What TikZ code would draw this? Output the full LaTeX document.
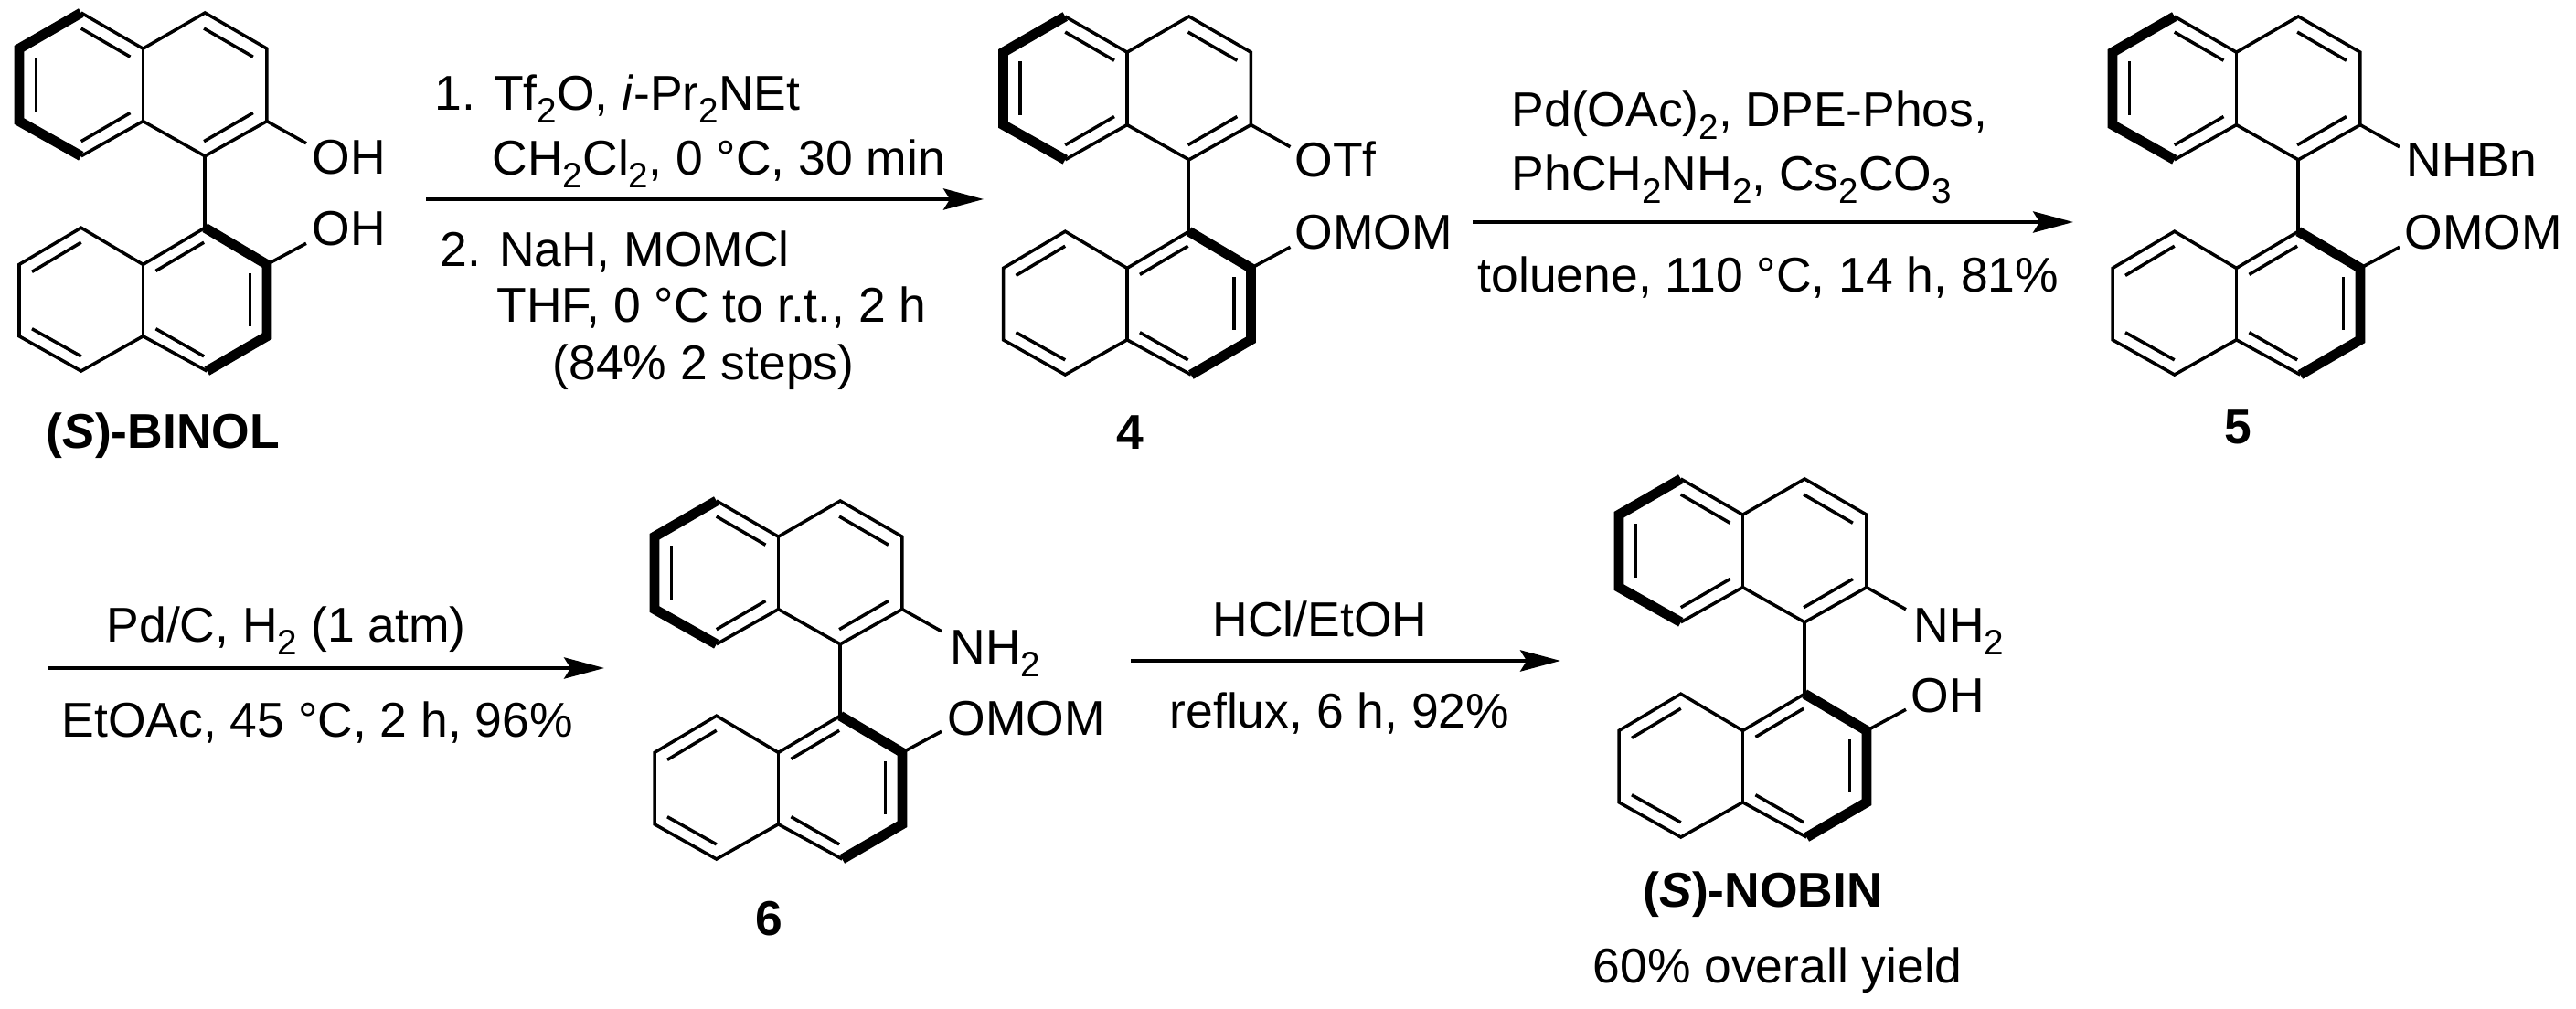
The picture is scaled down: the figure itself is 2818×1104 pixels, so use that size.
\documentclass[tikz,border=0pt]{standalone}
\usepackage{fontspec}
\setmainfont{Liberation Sans}
\usetikzlibrary{arrows.meta}

\newcommand{\chemsub}[1]{\raisebox{-.25em}{\fontsize{11}{12}\selectfont #1}}

\tikzset{
  bond/.style={line width=1pt},
  boldbond/.style={line width=3.1pt},
  rxnarrow/.style={line width=1.1pt,-{Stealth[length=12.5pt,width=6.6pt,inset=2pt]}},
  reagent/.style={anchor=base west,inner sep=0pt,font=\fontsize{15.2}{18}\selectfont},
  compound/.style={anchor=base,inner sep=0pt,font=\fontsize{15.2}{18}\selectfont\bfseries},
  title/.style={anchor=base west,inner sep=0pt,font=\fontsize{15.2}{18}\selectfont\bfseries},
}

% two naphthalene units: name, x, y
\newcommand{\binaph}[3]{
  \begin{scope}[shift={(#2,#3)},xscale=1.075,yscale=1.005]
    \coordinate (#1a1) at (63,0);    \coordinate (#1a2) at (126,39);
    \coordinate (#1a3) at (189,0);   \coordinate (#1a4) at (252,39);
    \coordinate (#1a5) at (252,118); \coordinate (#1a6) at (189,156);
    \coordinate (#1a7) at (126,118); \coordinate (#1a8) at (63,156);
    \coordinate (#1a9) at (0,118);   \coordinate (#1a0) at (0,39);
    \coordinate (#1b1) at (63,234);  \coordinate (#1b2) at (126,274);
    \coordinate (#1b3) at (189,234); \coordinate (#1b4) at (252,274);
    \coordinate (#1b5) at (252,352); \coordinate (#1b6) at (191,390);
    \coordinate (#1b7) at (126,352); \coordinate (#1b8) at (63,390);
    \coordinate (#1b9) at (0,352);   \coordinate (#1b0) at (0,274);
    \coordinate (#1up) at (292,142);
    \coordinate (#1lo) at (292,251);

    \draw[bond] (#1a1)--(#1a2)--(#1a3)--(#1a4)--(#1a5)--(#1a6)--(#1a7)--(#1a8);
    \draw[bond] (#1a2)--(#1a7);
    \draw[bond] (#1a6)--(#1b3);
    \draw[bond] (#1b3)--(#1b2)--(#1b1)--(#1b0)--(#1b9)--(#1b8)--(#1b7)--(#1b6);
    \draw[bond] (#1b2)--(#1b7);
    \draw[boldbond] (#1a1)--(#1a0)--(#1a9)--(#1a8);
    \draw[boldbond] (#1b3)--(#1b4)--(#1b5)--(#1b6);
    \draw[bond] (#1a5)--(#1up);
    \draw[bond] (#1b4)--(#1lo);

    % inner lines of the double bonds
    \draw[bond] (17,49)--(17,107);
    \draw[bond] (63,17)--(113,48);
    \draw[bond] (63,140)--(113,109);
    \draw[bond] (188,17)--(238,48);
    \draw[bond] (188,140)--(238,109);
    \draw[bond] (63,250)--(13,282);
    \draw[bond] (13,344)--(63,374);
    \draw[bond] (188,250)--(139,281);
    \draw[bond] (139,344)--(188,374);
    \draw[bond] (235,284)--(235,341);
  \end{scope}
}

\begin{document}
\begin{tikzpicture}[x=.01cm,y=-.01cm]
  \useasboundingbox (0,0) rectangle (2818,1104);

  \binaph{binol}{21}{14}
  \node[reagent] (binolup) at (341,191) {OH};
  \node[reagent] (binollo) at (341,269) {OH};
  \node[title] (binolname) at (50,491) {(\textit{S})-BINOL};

  \binaph{four}{1097.5}{18}
  \node[reagent] (fourup) at (1416,194) {OTf};
  \node[reagent] (fourlo) at (1416,273) {OMOM};
  \node[compound] (fourname) at (1236,492) {4};

  \binaph{five}{2311}{18}
  \node[reagent] (fiveup) at (2632,194) {NHBn};
  \node[reagent] (fivelo) at (2630,273) {OMOM};
  \node[compound] (fivename) at (2448,486) {5};

  \binaph{six}{716}{548}
  \node[reagent] (sixup) at (1039,727) {NH\chemsub{2}};
  \node[reagent] (sixlo) at (1036,805) {OMOM};
  \node[compound] (sixname) at (841,1024) {6};

  \binaph{nobin}{1771}{524}
  \node[reagent] (nobinup) at (2093,703) {NH\chemsub{2}};
  \node[reagent] (nobinlo) at (2090,780) {OH};
  \node[title] (nobinname) at (1797,992) {(\textit{S})-NOBIN};
  \node[reagent] (nobinyield) at (1742,1075) {60\% overall yield};

  % arrows
  \coordinate (arrAs) at (466,218);   \coordinate (arrAe) at (1076,218);
  \coordinate (arrBs) at (1611,243);  \coordinate (arrBe) at (2268,243);
  \coordinate (arrCs) at (52,731);    \coordinate (arrCe) at (661,731);
  \coordinate (arrDs) at (1237,723);  \coordinate (arrDe) at (1707,723);
  \draw[rxnarrow] (arrAs)--(arrAe);
  \draw[rxnarrow] (arrBs)--(arrBe);
  \draw[rxnarrow] (arrCs)--(arrCe);
  \draw[rxnarrow] (arrDs)--(arrDe);

  \node[reagent] (arrAa) at (475,121) {1. Tf\chemsub{2}O, \textit{i}-Pr\chemsub{2}NEt};
  \node[reagent] (arrAb) at (538,192) {CH\chemsub{2}Cl\chemsub{2}, 0 °C, 30 min};
  \node[reagent] (arrAc) at (481,292) {2. NaH, MOMCl};
  \node[reagent] (arrAd) at (543,353) {THF, 0 °C to r.t., 2 h};
  \node[reagent] (arrAf) at (604,416) {(84\% 2 steps)};

  \node[reagent] (arrBa) at (1653,139) {Pd(OAc)\chemsub{2}, DPE-Phos,};
  \node[reagent] (arrBb) at (1653,209) {PhCH\chemsub{2}NH\chemsub{2}, Cs\chemsub{2}CO\chemsub{3}};
  \node[reagent] (arrBc) at (1616,320) {toluene, 110 °C, 14 h, 81\%};

  \node[reagent] (arrCa) at (116,703) {Pd/C, H\chemsub{2} (1 atm)};
  \node[reagent] (arrCb) at (67,807) {EtOAc, 45 °C, 2 h, 96\%};

  \node[reagent] (arrDa) at (1326,697) {HCl/EtOH};
  \node[reagent] (arrDb) at (1279,797) {reflux, 6 h, 92\%};
\end{tikzpicture}
\end{document}
